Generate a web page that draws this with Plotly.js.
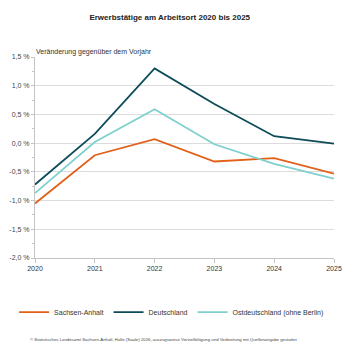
<!DOCTYPE html>
<html>
<head>
<meta charset="utf-8">
<script src="https://cdn.plot.ly/plotly-3.0.1.min.js"></script>
<style>html,body{margin:0;padding:0;background:#fff}#chart{width:350px;height:350px}</style>
</head>
<body>
<div id="chart"></div>
<script>
const years = [2020, 2021, 2022, 2023, 2024, 2025];
const sachsenAnhalt = [-1.05, -0.21, 0.07, -0.32, -0.26, -0.53];
const deutschland = [-0.72, 0.16, 1.30, 0.68, 0.12, -0.01];
const ostdeutschland = [-0.87, 0.02, 0.59, -0.02, -0.36, -0.62];
const seriesNames = ['Sachsen-Anhalt', 'Deutschland', 'Ostdeutschland (ohne Berlin)'];
const yTickVals = [-2.0, -1.5, -1.0, -0.5, 0.0, 0.5, 1.0, 1.5];
const yTickText = ['-2,0 %', '-1,5 %', '-1,0 %', '-0,5 %', '0,0 %', '0,5 %', '1,0 %', '1,5 %'];

const font = 'Liberation Sans, Arial, sans-serif';
const traces = [
  {x: years, y: sachsenAnhalt, name: seriesNames[0], mode: 'lines', line: {color: '#e2601a', width: 1.8}},
  {x: years, y: deutschland, name: seriesNames[1], mode: 'lines', line: {color: '#0c4b58', width: 1.8}},
  {x: years, y: ostdeutschland, name: seriesNames[2], mode: 'lines', line: {color: '#7ed0ce', width: 1.8}}
];
const layout = {
  width: 350, height: 350,
  margin: {l: 35, r: 16, t: 57, b: 92},
  paper_bgcolor: '#fff', plot_bgcolor: '#fff',
  font: {family: font, size: 7, color: '#333'},
  title: {text: '<b>Erwerbstätige am Arbeitsort 2020 bis 2025</b>', font: {size: 8, color: '#222', family: font}, x: 0.485, xanchor: 'center', y: 0.952, yanchor: 'middle'},
  xaxis: {
    range: [2020, 2025], tickvals: years, ticktext: years.map(String),
    showgrid: false, zeroline: false, showline: true, linecolor: '#c4c4c4', linewidth: 1,
    ticks: 'outside', ticklen: 4, tickcolor: '#c4c4c4', tickfont: {size: 7, color: '#333'}
  },
  yaxis: {
    range: [-2.0, 1.5], tickvals: yTickVals, ticktext: yTickText,
    showgrid: true, gridcolor: '#dcdcdc', gridwidth: 1, zeroline: false,
    showline: true, linecolor: '#c4c4c4', linewidth: 1,
    ticks: 'outside', ticklen: 3, tickcolor: '#c4c4c4', tickfont: {size: 7, color: '#444'},
    minor: {dtick: 0.25, tick0: 0, ticks: 'outside', ticklen: 2, tickcolor: '#c4c4c4', showgrid: false}
  },
  showlegend: true,
  legend: {orientation: 'h', x: -0.07, xanchor: 'left', y: -0.269, yanchor: 'middle', font: {size: 7, color: '#333'}, tracegroupgap: 0},
  annotations: [
    {text: 'Veränderung gegenüber dem Vorjahr', xref: 'paper', yref: 'paper', x: 0, y: 1, xanchor: 'left', yanchor: 'bottom', showarrow: false, font: {size: 7, color: '#333'}, xshift: -1, yshift: -1},
    {text: '© Statistisches Landesamt Sachsen-Anhalt, Halle (Saale) 2026, auszugsweise Vervielfältigung und Verbreitung mit Quellenangabe gestattet', xref: 'paper', yref: 'paper', x: 0.43, y: -0.405, xanchor: 'center', yanchor: 'middle', showarrow: false, font: {size: 4.3, color: '#444'}}
  ]
};
Plotly.newPlot('chart', traces, layout, {displayModeBar: false, staticPlot: true});
</script>
</body>
</html>
